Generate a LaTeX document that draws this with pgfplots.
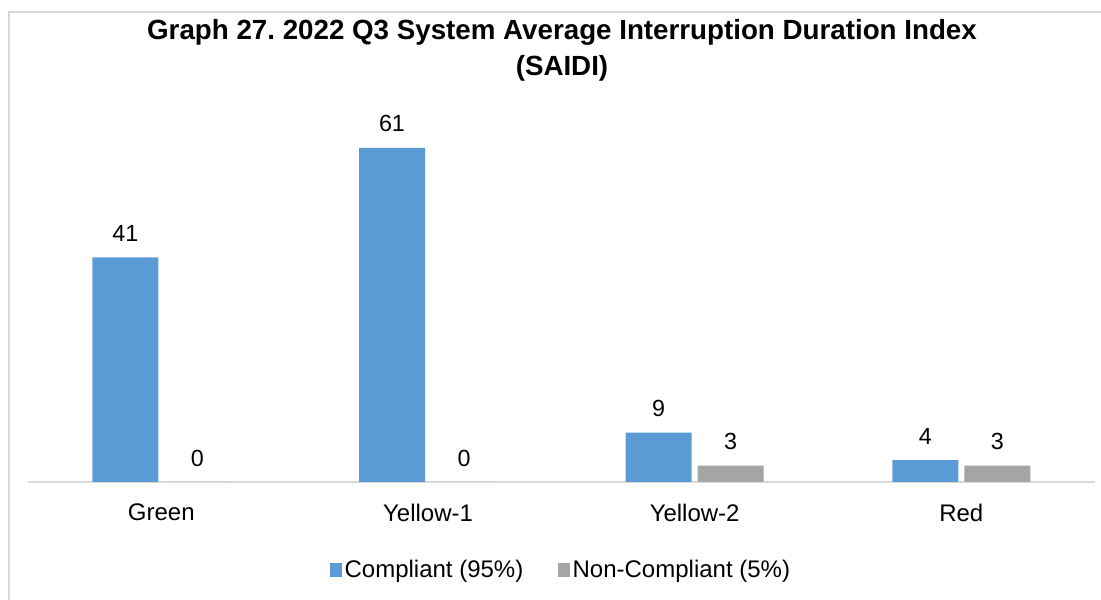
\documentclass[border=0pt]{standalone}
\usepackage{pgfplots}
\pgfplotsset{compat=1.18}
\usepackage{fontspec}
\setmainfont{Liberation Sans}
\frenchspacing
\definecolor{compl}{HTML}{5B9BD5}
\definecolor{noncompl}{HTML}{A5A5A5}
\definecolor{frame}{HTML}{D9D9D9}
\begin{document}
\begin{tikzpicture}[x=0.75pt,y=0.75pt]
% page is 1101 x 600 px, y counted up from the bottom
\useasboundingbox (0,0) rectangle (1101,600);
\draw[frame, line width=1.3pt] (9,0) -- (9,588) -- (1101,588);
\node[font=\fontsize{20.8}{27}\selectfont\bfseries, align=center] at (562,550)
  {Graph 27. 2022 Q3 System Average Interruption Duration Index\\(SAIDI)};
\begin{axis}[
    at={(21pt,88.5pt)}, anchor=south west,
    scale only axis,
    width=800pt, height=267pt,
    ybar, bar width=49.5pt,
    xmin=-0.5, xmax=3.5,
    ymin=0, ymax=65,
    axis y line=none,
    axis x line*=bottom,
    x axis line style={draw=frame, line width=1.2pt, -},
    xtick=data,
    xticklabels={Green, Yellow-1, Yellow-2, Red},
    major tick length=0pt,
    xticklabel style={font=\fontsize{18}{21}\selectfont, anchor=center, yshift=-23pt},
    /pgf/number format/assume math mode=true,
    nodes near coords,
    nodes near coords style={font=\fontsize{17.5}{21}\selectfont, black, anchor=center, yshift=18pt},
    legend style={at={(0.5,-0.247)}, anchor=center, draw=none,
      legend columns=2, font=\fontsize{18}{20}\selectfont,
      /tikz/every even column/.append style={column sep=24pt}},
    legend image code/.code={\draw[#1, draw=none] (0pt,-5pt) rectangle (9pt,5.5pt);},
]
\addplot[fill=compl, draw=none, bar shift=-27pt] coordinates {(0,41) (1,61) (2,9) (3,4)};
\addlegendentry{Compliant (95\%)}
\addplot[fill=noncompl, draw=none, bar shift=27pt] coordinates {(0,0) (1,0) (2,3) (3,3)};
\addlegendentry{Non-Compliant (5\%)}
\end{axis}
\end{tikzpicture}
\end{document}
